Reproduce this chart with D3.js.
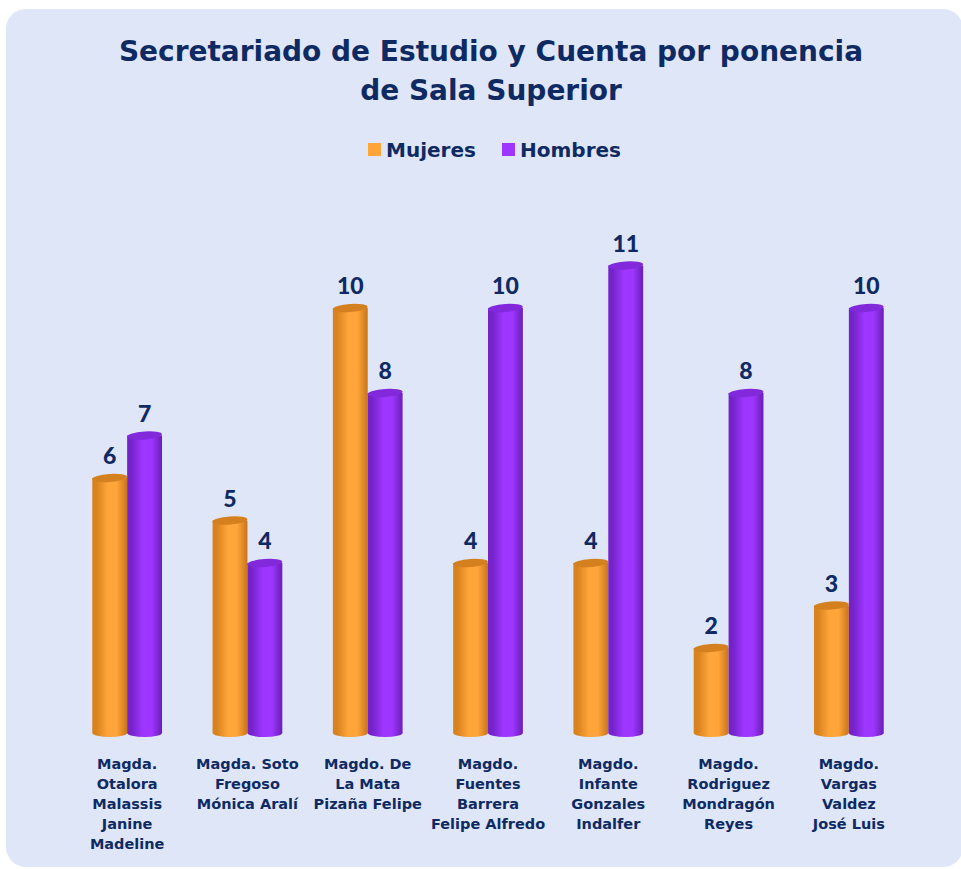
<!DOCTYPE html>
<html>
<head>
<meta charset="utf-8">
<script src="https://cdn.jsdelivr.net/npm/d3@7"></script>
<style>
  html, body { margin: 0; padding: 0; background: #ffffff; }
  svg { display: block; }
</style>
</head>
<body>
<svg id="chart" width="961" height="869"></svg>
<script>
const titleLines = ["Secretariado de Estudio y Cuenta por ponencia", "de Sala Superior"];
const seriesNames = ["Mujeres", "Hombres"];
const categories = [
  ["Magda.", "Otalora", "Malassis", "Janine", "Madeline"],
  ["Magda. Soto", "Fregoso", "Mónica Aralí"],
  ["Magdo. De", "La Mata", "Pizaña Felipe"],
  ["Magdo.", "Fuentes", "Barrera", "Felipe Alfredo"],
  ["Magdo.", "Infante", "Gonzales", "Indalfer"],
  ["Magdo.", "Rodriguez", "Mondragón", "Reyes"],
  ["Magdo.", "Vargas", "Valdez", "José Luis"]
];
const mujeres = [6, 5, 10, 4, 4, 2, 3];
const hombres = [7, 4, 8, 10, 11, 8, 10];

const seriesValues = [mujeres, hombres];
const textColor = "#0f2a63";
const colors = {
  Mujeres: { edgeL: "#d9831f", mid: "#ffa53a", edgeR: "#c9741a", top: "#d4801f" },
  Hombres: { edgeL: "#7423c9", mid: "#9e36ff", edgeR: "#6a1eb5", top: "#8129db" }
};

const svg = d3.select("#chart");
const defs = svg.append("defs");

// panel
svg.append("rect")
  .attr("x", 6).attr("y", 9).attr("width", 957).attr("height", 858)
  .attr("rx", 20).attr("ry", 20)
  .attr("fill", "#dee6f7");

// gradients
seriesNames.forEach(name => {
  const c = colors[name];
  const g = defs.append("linearGradient").attr("id", "grad-" + name)
    .attr("x1", "0%").attr("x2", "100%").attr("y1", "0%").attr("y2", "0%");
  g.append("stop").attr("offset", "0%").attr("stop-color", c.edgeL);
  g.append("stop").attr("offset", "12%").attr("stop-color", c.edgeL);
  g.append("stop").attr("offset", "45%").attr("stop-color", c.mid);
  g.append("stop").attr("offset", "70%").attr("stop-color", c.mid);
  g.append("stop").attr("offset", "100%").attr("stop-color", c.edgeR);
});

// title
const title = svg.append("text")
  .attr("text-anchor", "middle")
  .attr("font-family", "DejaVu Sans")
  .attr("font-weight", "bold")
  .attr("font-size", 28)
  .attr("fill", textColor);
titleLines.forEach((t, i) => {
  title.append("tspan").attr("x", 491).attr("y", 61 + i * 39).text(t);
});

// legend
const legendItems = [
  { name: "Mujeres", sx: 368, tx: 386 },
  { name: "Hombres", sx: 502, tx: 520 }
];
legendItems.forEach(li => {
  svg.append("rect").attr("x", li.sx).attr("y", 143).attr("width", 13).attr("height", 13)
    .attr("fill", colors[li.name].mid);
  svg.append("text").attr("x", li.tx).attr("y", 157)
    .attr("font-family", "DejaVu Sans").attr("font-weight", "bold")
    .attr("font-size", 20).attr("fill", textColor).text(li.name);
});

// scales
const x0 = d3.scaleBand()
  .domain(d3.range(categories.length))
  .range([67, 909])
  .paddingInner(0.42)
  .paddingOuter(0.21);
const x1 = d3.scaleBand()
  .domain(seriesNames)
  .range([0, x0.bandwidth()])
  .padding(0);
const y = d3.scaleLinear().domain([0, 10]).range([733, 308]);

const ry = 4;
const groups = svg.append("g").selectAll("g")
  .data(categories.map((c, i) => i))
  .join("g")
  .attr("transform", i => `translate(${x0(i)},0)`);

seriesNames.forEach((name, si) => {
  const vals = seriesValues[si];
  const bw = x1.bandwidth();
  const bar = groups.append("g").attr("transform", `translate(${x1(name)},0)`);
  const rx = bw / 2;
  // body
  bar.append("path")
    .attr("d", i => {
      const top = y(vals[i]), bot = y(0);
      return `M0,${top} L0,${bot} A${rx},${ry} 0 0 0 ${bw},${bot} L${bw},${top} Z`;
    })
    .attr("fill", `url(#grad-${name})`);
  // top ellipse
  bar.append("ellipse")
    .attr("cx", rx)
    .attr("cy", i => y(vals[i]))
    .attr("rx", rx).attr("ry", ry)
    .attr("transform", i => `rotate(-4,${rx},${y(vals[i])})`)
    .attr("fill", colors[name].top);
  // value label
  bar.append("text")
    .attr("x", rx)
    .attr("y", i => y(vals[i]) - 14)
    .attr("text-anchor", "middle")
    .attr("font-family", "Lato")
    .attr("font-weight", 900)
    .attr("font-size", 23)
    .attr("fill", textColor)
    .text(i => vals[i]);
});

// category labels
const labelG = svg.append("g");
categories.forEach((lines, i) => {
  const cx = x0(i) + x0.bandwidth() / 2;
  const t = labelG.append("text")
    .attr("text-anchor", "middle")
    .attr("font-family", "DejaVu Sans")
    .attr("font-weight", "bold")
    .attr("font-size", 14.5)
    .attr("fill", textColor);
  lines.forEach((ln, j) => {
    t.append("tspan").attr("x", cx).attr("y", 769 + j * 20).text(ln);
  });
});
</script>
</body>
</html>
